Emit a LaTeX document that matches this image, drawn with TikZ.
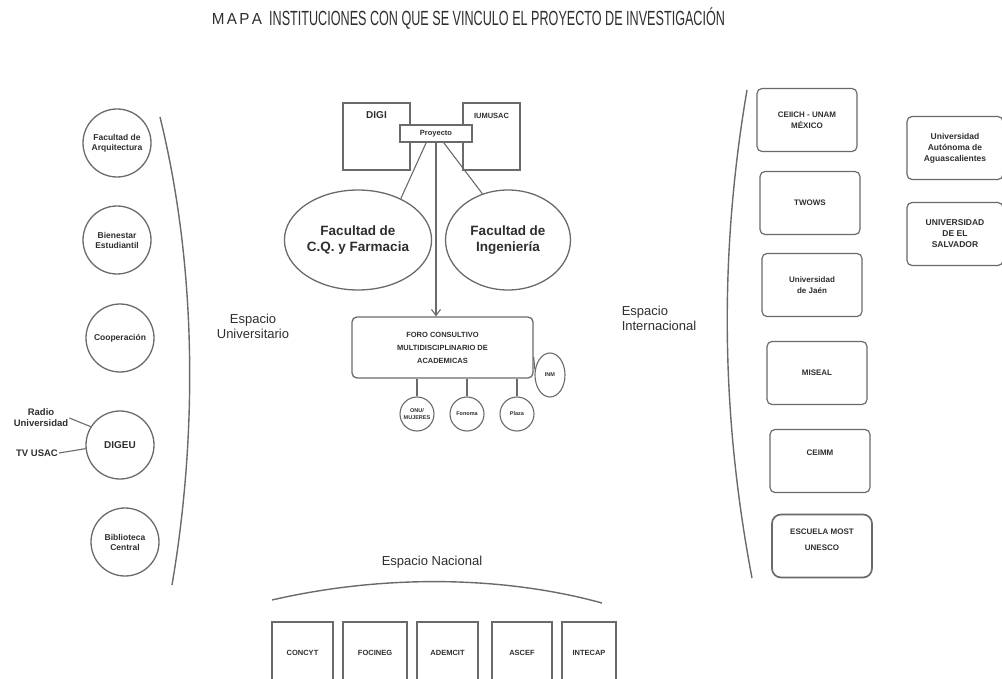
\documentclass[tikz,border=0pt]{standalone}
\usepackage{fontspec}
\setmainfont{Liberation Sans}
\usetikzlibrary{shapes.geometric,arrows.meta}
\definecolor{linegray}{HTML}{6A6A6A}
\definecolor{inkgray}{HTML}{2E2E2E}

\begin{document}
\begin{tikzpicture}[x=1pt, y=-1pt]
        \tikzstyle{every node}=[text=inkgray, align=center, inner sep=1pt]
        \tikzstyle{conn}=[draw=linegray, line width=1.1pt]
        \tikzstyle{bracket}=[draw=linegray, line width=1.4pt]
        \tikzstyle{unicirc}=[circle, draw=linegray, line width=1.3pt, minimum size=68pt, font=\bfseries\fontsize{8.5}{10}\selectfont]
        \tikzstyle{smallcirc}=[circle, draw=linegray, line width=1.1pt, minimum size=34pt, font=\bfseries\fontsize{5.5}{6.5}\selectfont]
        \tikzstyle{sidelbl}=[font=\bfseries\fontsize{9.5}{11}\selectfont]
        \tikzstyle{spacelbl}=[font=\fontsize{13}{15}\selectfont]
        \tikzstyle{topbox}=[draw=linegray, line width=1.2pt, minimum width=67pt, minimum height=67pt]
        \tikzstyle{facell}=[ellipse, draw=linegray, line width=1.3pt, font=\bfseries\fontsize{13.5}{16}\selectfont]
        \tikzstyle{intbox}=[draw=linegray, line width=1.2pt, rounded corners=5pt, minimum width=100pt, minimum height=63pt, font=\bfseries\fontsize{8}{10.5}\selectfont]
        \tikzstyle{farbox}=[draw=linegray, line width=1.2pt, rounded corners=5pt, minimum width=96pt, minimum height=63pt, font=\bfseries\fontsize{8.5}{11}\selectfont]
        \tikzstyle{natbox}=[draw=linegray, line width=1.2pt, minimum height=62pt, font=\bfseries\fontsize{7.5}{9}\selectfont]

        \clip (0,0) rectangle (1002,679);

% title of the map
        \node (mapa) at (237,19) {\scalebox{0.95}[1]{\fontsize{16}{16}\selectfont M\hspace{2.5pt}A\hspace{2.5pt}P\hspace{2.5pt}A}};
        \node[anchor=west] (titulo) at (268,19) {\scalebox{0.615}[1]{\fontsize{20.5}{20.5}\selectfont INSTITUCIONES CON QUE SE VINCULO EL PROYECTO DE INVESTIGACIÓN}};

% Espacio Universitario
        \node[unicirc] (arq) at (117,143) {Facultad de\\Arquitectura};
        \node[unicirc] (bien) at (117,240) {Bienestar\\Estudiantil};
        \node[unicirc] (coop) at (120,338) {Cooperación};
        \node[unicirc, font=\bfseries\fontsize{10}{12}\selectfont] (digeu) at (120,445) {DIGEU};
        \node[unicirc] (biblio) at (125,542) {Biblioteca\\Central};
        \node[sidelbl] (radio) at (41,418) {Radio\\Universidad};
        \node[sidelbl] (tv) at (37,453) {TV USAC};
        \draw[conn] (radio.east) -- (digeu.148);
        \draw[conn] (tv.east) -- (digeu.186);
        \draw[bracket] (160,117) .. controls (200,280) and (195,450) .. (172,585);
        \node[spacelbl] (univ) at (253,326) {Espacio\\Universitario};

% centre: proyecto, facultades and foro
        \node[topbox] (digi) at (376.5,136.5) {};
        \node[font=\bfseries\fontsize{10}{12}\selectfont, anchor=north] (digit) at (digi.north) [yshift=-8pt] {DIGI};
        \node[topbox, minimum width=57pt] (iumusac) at (491.5,136.5) {};
        \node[font=\bfseries\fontsize{7.5}{9}\selectfont, anchor=north] (iumusact) at (iumusac.north) [yshift=-10pt] {IUMUSAC};
        \node[draw=linegray, line width=1.3pt, fill=white, minimum width=72pt, minimum height=17pt, font=\bfseries\fontsize{7.5}{9}\selectfont] (proy) at (436,133.5) {Proyecto};
        \node[facell, minimum width=147pt, minimum height=100pt] (cqf) at (358,240) {Facultad de\\C.Q. y Farmacia};
        \node[facell, minimum width=125pt, minimum height=100pt] (ing) at (508,240) {Facultad de\\Ingeniería};
        \node[draw=linegray, line width=1.3pt, rounded corners=5pt, minimum width=181pt, minimum height=61pt, font=\bfseries\fontsize{7.5}{13}\selectfont] (foro) at (442.5,347.5) {FORO CONSULTIVO\\MULTIDISCIPLINARIO DE\\ACADEMICAS};
        \draw[conn] (proy.223) -- (cqf.44);
        \draw[conn] (proy.-50) -- (ing.119);
        \draw[conn, -{Straight Barb[length=6pt, width=9pt]}] (proy.south) -- (proy.south |- foro.north);

        \node[smallcirc] (onu) at (417,414) {ONU/\\MUJERES};
        \node[smallcirc] (fonoma) at (467,414) {Fonoma};
        \node[smallcirc] (plaza) at (517,414) {Plaza};
        \node[ellipse, draw=linegray, line width=1.1pt, minimum width=30pt, minimum height=44pt, font=\bfseries\fontsize{5.5}{6.5}\selectfont] (inm) at (550,375) {INM};
        \draw[conn] (onu.north) -- (onu.north |- foro.south);
        \draw[conn] (fonoma.north) -- (fonoma.north |- foro.south);
        \draw[conn] (plaza.north) -- (plaza.north |- foro.south);
        \draw[conn] (foro.-6) -- (inm.160);

% Espacio Internacional
        \draw[bracket] (747,90) .. controls (718,260) and (722,420) .. (752,578);
        \node[spacelbl, align=left] (inter) at (659,318) {Espacio\\Internacional};
        \node[intbox] (ceiich) at (807,120) {CEIICH - UNAM\\MÉXICO};
        \node[intbox] (twows) at (810,203) {TWOWS};
        \node[intbox] (jaen) at (812,285) {Universidad\\de Jaén};
        \node[intbox] (miseal) at (817,373) {MISEAL};
        \node[intbox] (ceimm) at (820,461) {CEIMM\\[6pt]};
        \node[intbox, line width=1.7pt, rounded corners=9pt] (most) at (822,546) {ESCUELA MOST\\[6pt]UNESCO\\[2pt]};
        \node[farbox] (uaa) at (955,148) {Universidad\\Autónoma de\\Aguascalientes};
        \node[farbox] (ues) at (955,234) {UNIVERSIDAD\\DE EL\\SALVADOR};

% Espacio Nacional
        \node[spacelbl] (nac) at (432,562) {Espacio Nacional};
        \draw[bracket] (272,600) .. controls (380,575) and (500,575) .. (602,603);
        \node[natbox, minimum width=61pt] (concyt) at (302.5,653) {CONCYT};
        \node[natbox, minimum width=64pt] (focineg) at (375,653) {FOCINEG};
        \node[natbox, minimum width=61pt] (ademcit) at (447.5,653) {ADEMCIT};
        \node[natbox, minimum width=60pt, line width=1.7pt] (ascef) at (522,653) {ASCEF};
        \node[natbox, minimum width=54pt, line width=1.7pt] (intecap) at (589,653) {INTECAP};

\end{tikzpicture}
\end{document}
